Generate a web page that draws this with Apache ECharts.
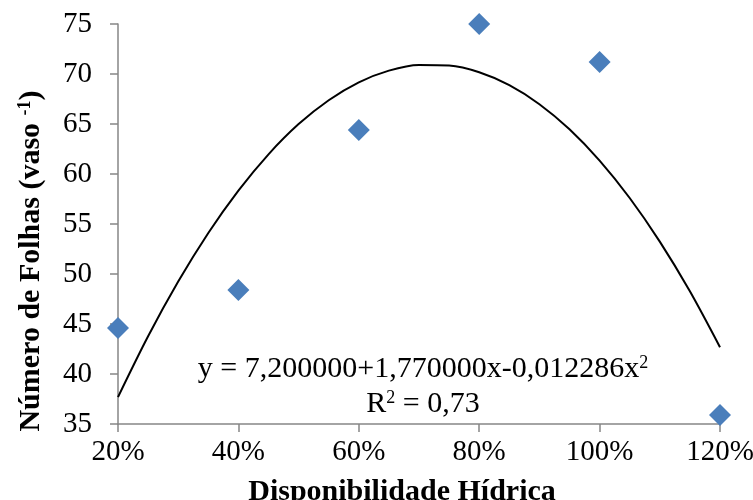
<!DOCTYPE html>
<html lang="pt">
  <head>
    <meta charset="UTF-8" />
    <title>Número de Folhas</title>
    <script src="https://cdn.jsdelivr.net/npm/echarts@6/dist/echarts.min.js"></script>
  </head>
  <body style="margin: 0">
    <div id="main" style="width: 753px; height: 500px"></div>

    <script>
      // pontos observados (disponibilidade hídrica %, número de folhas)
      var xObs = [20, 40, 60, 80, 100, 120]
      var yObs = [44.6, 48.4, 64.4, 75.0, 71.2, 35.9]

      // linha de tendência
      var xCurve = [20, 25, 30, 35, 40, 45, 50, 55, 60, 65, 70, 75, 80, 85, 90, 95, 100, 105, 110, 115, 120]
      var yCurve = [37.69, 43.77, 49.24, 54.1, 58.34, 61.97, 64.99, 67.38, 69.17, 70.34, 70.9, 70.84, 70.17, 68.88, 66.98, 64.47, 61.34, 57.6, 53.24, 48.27, 42.68]

      var serif = "'Liberation Serif', 'Times New Roman', serif"
      var axisGrey = "#868686"

      var chart = echarts.init(document.getElementById("main"))

      var obsData = []
      for (let i = 0; i < xObs.length; i++) {
        obsData.push([xObs[i], yObs[i]])
      }
      var curveData = []
      for (let i = 0; i < xCurve.length; i++) {
        curveData.push([xCurve[i], yCurve[i]])
      }

      var supStyle = { fontSize: 18, fontFamily: serif, color: "#000", fill: "#000", verticalAlign: "top", padding: [0, 0, 12, 0] }

      var option = {
        animation: false,
        grid: { left: 118, right: 33, top: 24, bottom: 76, outerBoundsMode: "none" },
        xAxis: {
          type: "value",
          min: 20,
          max: 120,
          interval: 20,
          name: "Disponibilidade Hídrica",
          nameLocation: "middle",
          nameGap: 53,
          // título um pouco à esquerda do centro, como no original
          nameTextStyle: { fontFamily: serif, fontSize: 30, fontWeight: "bold", color: "#000", padding: [0, 34, 0, 0] },
          axisLine: { lineStyle: { color: axisGrey, width: 1.5 } },
          axisTick: { show: true, length: 8, lineStyle: { color: axisGrey, width: 1.5 } },
          axisLabel: { formatter: "{value}%", fontFamily: serif, fontSize: 29, color: "#000", margin: 14 },
          splitLine: { show: false },
        },
        yAxis: {
          type: "value",
          min: 35,
          max: 75,
          interval: 5,
          name: "Número de Folhas (vaso {sup|-1})",
          nameLocation: "middle",
          nameGap: 72,
          nameTextStyle: {
            fontFamily: serif,
            fontSize: 30,
            fontWeight: "bold",
            color: "#000",
            // desloca o título para baixo
            padding: [0, 74, 0, 0],
            rich: {
              sup: { fontFamily: serif, fontSize: 18, fontWeight: "bold", color: "#000", verticalAlign: "top", padding: [0, 0, 12, 0] },
            },
          },
          axisLine: { show: true, lineStyle: { color: axisGrey, width: 1.5 } },
          axisTick: { show: true, length: 8, lineStyle: { color: axisGrey, width: 1.5 } },
          axisLabel: { fontFamily: serif, fontSize: 29, color: "#000", margin: 26 },
          splitLine: { show: false },
        },
        graphic: [
          {
            type: "text",
            x: 423,
            y: 354,
            style: {
              text: "y = 7,200000+1,770000x-0,012286x{sup|2}",
              font: "30px " + serif,
              fill: "#000",
              align: "center",
              rich: { sup: supStyle },
            },
          },
          {
            type: "text",
            x: 423,
            y: 389,
            style: {
              text: "R{sup|2} = 0,73",
              font: "30px " + serif,
              fill: "#000",
              align: "center",
              rich: { sup: supStyle },
            },
          },
        ],
        series: [
          {
            type: "line",
            data: curveData,
            smooth: 0.3,
            showSymbol: false,
            lineStyle: { color: "#000", width: 2 },
            z: 2,
          },
          {
            type: "scatter",
            data: obsData,
            symbol: "diamond",
            symbolSize: [22, 22],
            itemStyle: { color: "#4A7EBB", opacity: 1 },
            z: 3,
          },
        ],
      }

      chart.setOption(option)
    </script>
  </body>
</html>
